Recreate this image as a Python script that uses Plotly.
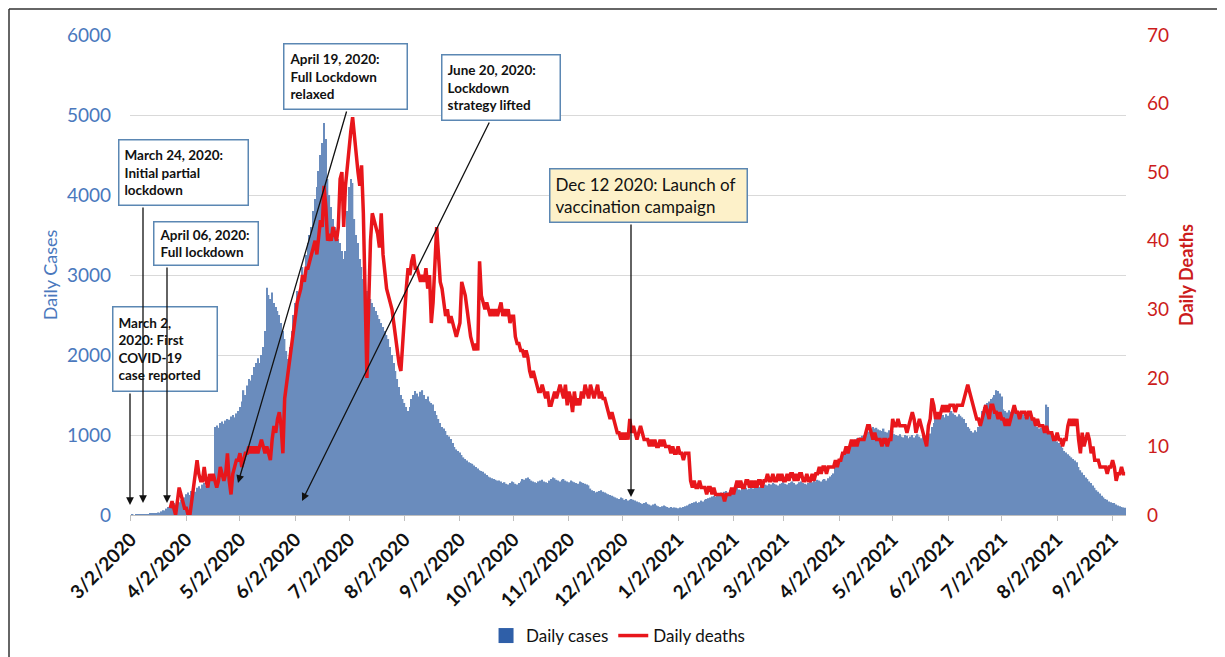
import pandas as pd
import plotly.graph_objects as go

# ---------------- data ----------------
start_date = "2020-03-02"

daily_cases = [
    0, 1, 0, 2, 3, 2, 5, 8, 6, 10,
    12, 15, 20, 18, 25, 30, 28, 45, 60, 55,
    80, 100, 90, 120, 150, 130, 170, 160, 190, 180,
    220, 260, 280, 250, 300, 320, 290, 340, 360, 330,
    380, 400, 370, 420, 450, 430, 480, 1100, 1120, 1090,
    1150, 1170, 1140, 1180, 1200, 1190, 1230, 1250, 1220, 1270,
    1300, 1350, 1420, 1560, 1500, 1620, 1700, 1680, 1750, 1850,
    1900, 1960, 1900, 2000, 2100, 2300, 2840, 2750, 2700, 2780,
    2650, 2600, 2550, 2500, 2400, 2300, 2200, 2050, 1950, 2100,
    2300, 2500, 2650, 2800, 2700, 2900, 3100, 3000, 3250, 3400,
    3500, 3600, 3800, 3950, 4100, 4300, 4500, 4650, 4900, 4700,
    4200, 4000, 3850, 3700, 3600, 3500, 3450, 3400, 3300, 3200,
    3300, 3800, 4100, 4200, 4150, 3700, 3500, 3400, 3200, 3100,
    2950, 2850, 2800, 2750, 2700, 2650, 2600, 2550, 2500, 2450,
    2400, 2350, 2300, 2250, 2200, 2100, 2000, 1900, 1800, 1700,
    1600, 1500, 1450, 1400, 1350, 1300, 1350, 1450, 1500, 1550,
    1520, 1480, 1540, 1560, 1500, 1450, 1480, 1420, 1400, 1380,
    1300, 1250, 1200, 1150, 1100, 1080, 1050, 1000, 980, 950,
    900, 850, 820, 800, 780, 750, 720, 700, 680, 660,
    650, 640, 620, 600, 580, 560, 550, 540, 520, 500,
    480, 470, 460, 450, 440, 430, 430, 420, 400, 410,
    390, 380, 400, 420, 410, 390, 380, 400, 420, 450,
    440, 460, 470, 450, 430, 420, 410, 400, 420, 430,
    440, 420, 410, 400, 430, 450, 470, 460, 440, 430,
    420, 440, 450, 430, 420, 410, 430, 420, 410, 400,
    390, 420, 410, 400, 390, 380, 370, 330, 310, 300,
    280, 290, 300, 310, 290, 280, 270, 260, 250, 240,
    230, 220, 210, 200, 220, 210, 190, 200, 180, 190,
    200, 190, 180, 170, 160, 150, 140, 150, 160, 140,
    130, 120, 130, 140, 120, 110, 100, 110, 120, 110,
    100, 90, 100, 90, 95, 90, 85, 95, 90, 100,
    110, 120, 130, 140, 150, 160, 170, 150, 160, 180,
    170, 190, 200, 210, 220, 230, 240, 230, 250, 260,
    280, 270, 290, 300, 280, 310, 320, 300, 330, 340,
    320, 310, 330, 350, 340, 320, 330, 340, 330, 350,
    340, 360, 350, 370, 360, 380, 370, 390, 380, 400,
    390, 380, 370, 390, 400, 410, 390, 380, 400, 410,
    420, 400, 380, 390, 410, 420, 400, 390, 380, 400,
    420, 410, 430, 420, 440, 430, 420, 440, 450, 430,
    460, 480, 500, 520, 600, 650, 700, 720, 760, 780,
    820, 860, 900, 880, 920, 940, 960, 950, 970, 990,
    1000, 1050, 1080, 1040, 1060, 1100, 1080, 1090, 1070, 1060,
    1050, 1080, 1040, 1030, 1060, 1020, 1050, 1010, 1000, 990,
    1010, 980, 970, 1000, 990, 960, 980, 1000, 970, 990,
    1010, 980, 960, 1000, 990, 970, 980, 1020, 1100, 1150,
    1200, 1250, 1280, 1300, 1250, 1220, 1260, 1240, 1280, 1300,
    1270, 1250, 1230, 1260, 1240, 1220, 1200, 1150, 1100, 1080,
    1050, 1030, 1060, 1040, 1100, 1200, 1300, 1350, 1380, 1400,
    1420, 1450, 1470, 1500, 1560, 1550, 1520, 1480, 1320, 1300,
    1280, 1310, 1290, 1260, 1300, 1280, 1250, 1270, 1240, 1260,
    1230, 1250, 1220, 1240, 1230, 1150, 1120, 1100, 1080, 1090,
    1070, 1060, 1380, 1350, 1020, 1000, 980, 950, 920, 900,
    870, 840, 800, 780, 760, 740, 720, 700, 680, 660,
    600, 560, 530, 500, 470, 450, 420, 400, 370, 340,
    310, 290, 270, 240, 220, 200, 190, 170, 160, 150,
    150, 130, 120, 110, 100, 95, 90,
]

daily_deaths = [None] * 22 + [
    1, 2, 1, 0, 2, 4, 3, 2,
    1, 1, 0, 0, 2, 4, 6, 8, 6, 5,
    5, 7, 5, 4, 6, 5, 6, 5, 4, 5,
    7, 6, 5, 6, 9, 5, 3, 6, 7, 8,
    8, 9, 7, 8, 9, 9, 10, 9, 10, 9,
    10, 9, 10, 11, 10, 9, 10, 9, 8, 11,
    13, 12, 14, 15, 13, 9, 17, 19, 21, 23,
    25, 27, 29, 31, 32, 33, 35, 34, 36, 36,
    37, 38, 39, 40, 38, 41, 43, 42, 48, 45,
    40, 41, 40, 42, 41, 40, 42, 49, 50, 42,
    48, 51, 54, 56, 58, 55, 52, 50, 48, 51,
    44, 30, 20, 31, 40, 44, 43, 42, 41, 39,
    44, 38, 35, 33, 32, 31, 30, 28, 26, 24,
    22, 21, 25, 30, 33, 36, 35, 37, 38, 36,
    36, 35, 34, 35, 34, 36, 33, 35, 28, 31,
    36, 42, 38, 34, 33, 31, 29, 30, 28, 29,
    28, 27, 26, 27, 28, 34, 33, 32, 30, 28,
    26, 25, 24, 25, 24, 37, 32, 31, 30, 31,
    30, 29, 30, 29, 30, 29, 30, 31, 29, 30,
    29, 30, 28, 29, 29, 26, 25, 25, 24, 24,
    23, 24, 23, 21, 20, 21, 20, 19, 18, 18,
    19, 18, 17, 18, 16, 16, 17, 18, 17, 18,
    19, 18, 17, 19, 16, 18, 17, 15, 18, 16,
    17, 16, 18, 17, 19, 18, 17, 19, 18, 17,
    18, 19, 17, 18, 17, 17, 16, 15, 14, 15,
    14, 13, 12, 12, 11, 12, 11, 12, 11, 14,
    12, 13, 12, 11, 12, 13, 12, 11, 11, 11,
    10, 11, 10, 11, 10, 10, 11, 10, 11, 10,
    10, 10, 9, 10, 9, 9, 10, 9, 9, 8,
    9, 9, 9, 5, 4, 5, 4, 4, 5, 4,
    4, 4, 3, 4, 4, 3, 4, 3, 3, 3,
    3, 3, 2, 3, 3, 3, 4, 3, 4, 5,
    4, 5, 4, 4, 5, 5, 4, 5, 4, 5,
    4, 5, 5, 4, 5, 5, 6, 5, 5, 6,
    5, 5, 6, 5, 6, 5, 5, 6, 5, 6,
    6, 5, 6, 5, 6, 6, 5, 5, 6, 5,
    5, 6, 5, 6, 6, 7, 6, 7, 7, 6,
    7, 7, 7, 7, 8, 7, 8, 8, 9, 9,
    10, 9, 10, 11, 10, 11, 10, 11, 11, 11,
    11, 12, 13, 13, 12, 11, 12, 11, 11, 11,
    10, 11, 11, 10, 11, 11, 14, 13, 13, 14,
    13, 13, 13, 13, 12, 13, 14, 15, 14, 12,
    13, 14, 13, 12, 11, 10, 13, 14, 17, 16,
    14, 15, 14, 15, 16, 15, 16, 15, 16, 16,
    16, 15, 16, 16, 16, 16, 17, 18, 19, 18,
    17, 16, 15, 14, 14, 13, 14, 15, 16, 15,
    14, 16, 16, 15, 15, 14, 15, 14, 14, 13,
    14, 13, 14, 15, 16, 15, 15, 14, 15, 15,
    15, 14, 15, 15, 14, 14, 13, 14, 13, 13,
    13, 12, 13, 12, 12, 12, 11, 11, 12, 11,
    11, 10, 11, 11, 13, 14, 13, 14, 13, 14,
    11, 9, 12, 10, 11, 12, 11, 9, 10, 8,
    8, 8, 7, 7, 7, 7, 6, 7, 7, 8,
    7, 5, 6, 6, 7, 6, 6,
]

tick_labels = ["3/2/2020", "4/2/2020", "5/2/2020", "6/2/2020", "7/2/2020",
               "8/2/2020", "9/2/2020", "10/2/2020", "11/2/2020", "12/2/2020",
               "1/2/2021", "2/2/2021", "3/2/2021", "4/2/2021", "5/2/2021",
               "6/2/2021", "7/2/2021", "8/2/2021", "9/2/2021"]

note_march2 = "March 2,<br>2020: First<br>COVID-19<br>case reported"
note_march24 = "March 24, 2020:<br>Initial partial<br>lockdown"
note_april06 = "April 06, 2020:<br>Full lockdown"
note_april19 = "April 19, 2020:<br>Full Lockdown<br>relaxed"
note_june20 = "June 20, 2020:<br>Lockdown<br>strategy lifted"
note_dec12 = "Dec 12 2020: Launch of<br>vaccination campaign"

# ---------------- figure ----------------
dates = pd.date_range(start_date, periods=len(daily_cases), freq="D")
deaths = daily_deaths[:len(dates)]
tick_dates = pd.to_datetime(tick_labels, format="%m/%d/%Y")

FONT = "Lato, 'Open Sans', sans-serif"
BLUE_TXT = "#4a78bd"
RED_TXT = "#cc1c1c"

fig = go.Figure()
# legend swatch for the bars (solid Excel-like blue)
fig.add_trace(go.Scatter(
    x=[None], y=[None], name="Daily cases", mode="markers",
    marker=dict(symbol="square", size=15, color="#2f5fa8"),
))
fig.add_trace(go.Bar(
    x=dates, y=daily_cases, name="Daily cases", showlegend=False,
    marker=dict(color="#6a8cbd", line=dict(width=0)),
))
fig.add_trace(go.Scatter(
    x=dates, y=deaths, name="Daily deaths", yaxis="y2",
    mode="lines", line=dict(color="#e8161b", width=3.5),
    connectgaps=False,
))

# page offset of the figure (browser body margin)
OFF = 8
W, H = 1225, 657
# plot area in page pixels
L, R, T, B = 130, 1126, 35, 515


def px(x):
    return (x - L) / (R - L)


def py(y):
    return (B - y) / (B - T)


annotations = []

boxes = [
    (note_march2, 112, 306, 106, 86, 13.5, "white", True),
    (note_march24, 118, 139, 131, 67, 13.5, "white", True),
    (note_april06, 153, 221, 106, 45, 13.5, "white", True),
    (note_april19, 283, 43, 125, 67, 13.5, "white", True),
    (note_june20, 441, 54, 120, 67, 13.5, "white", True),
    (note_dec12, 549, 168, 199, 55, 17, "#fdf1c9", False),
]
pad, bw = 5, 1.5
for text, x0, y0, w, h, fs, bg, bold in boxes:
    annotations.append(dict(
        text=text, xref="paper", yref="paper", x=px(x0), y=py(y0),
        xanchor="left", yanchor="top", showarrow=False, align="left",
        valign="middle", width=w - 2 * pad - 2 * bw, height=h - 2 * pad - 2 * bw,
        bgcolor=bg, bordercolor="#5b87b3", borderwidth=bw, borderpad=pad,
        font=dict(family=FONT, size=fs, color="#111111",
                  weight="bold" if bold else "normal"),
    ))

arrows = [
    ((130, 392), (130, 505)),
    ((143, 206), (143, 503)),
    ((167, 266), (167, 503)),
    ((347, 110), (238, 483)),
    ((490, 121), (302, 501)),
    ((631, 223), (631, 497)),
]
for (tx, ty), (hx, hy) in arrows:
    annotations.append(dict(
        text="", xref="paper", yref="paper", x=px(hx), y=py(hy),
        ax=tx - hx, ay=ty - hy, showarrow=True, arrowhead=2,
        arrowsize=1.2, arrowwidth=1.3, arrowcolor="#111111", standoff=0,
    ))

# outer frame (left and top edges), as close to the page corner as the figure allows
fx, fy = OFF + 1, OFF + 1
shapes = [
    dict(type="line", xref="paper", yref="paper",
         x0=px(fx), x1=px(fx), y0=py(fy), y1=py(H + 20),
         line=dict(color="#333333", width=1.5)),
    dict(type="line", xref="paper", yref="paper",
         x0=px(fx), x1=px(W + 20), y0=py(fy), y1=py(fy),
         line=dict(color="#333333", width=1.5)),
]

fig.update_layout(
    width=W, height=H,
    margin=dict(l=L - OFF, r=W - (R - OFF), t=T - OFF, b=H - (B - OFF),
                autoexpand=False),
    paper_bgcolor="white", plot_bgcolor="white",
    font=dict(family=FONT, size=16, color="#111111"),
    bargap=0.2,
    showlegend=True,
    legend=dict(orientation="h", x=0.49, xanchor="center",
                yref="container", y=1 - (636 - OFF) / H, yanchor="middle",
                font=dict(family=FONT, size=17, color="#111111"),
                traceorder="normal", itemwidth=30, bgcolor="rgba(0,0,0,0)"),
    xaxis=dict(
        type="date", automargin=False,
        range=[pd.Timestamp(start_date) - pd.Timedelta(hours=12),
               dates[-1] + pd.Timedelta(hours=12)],
        tickvals=tick_dates, ticktext=tick_labels, tickangle=-45,
        tickfont=dict(family=FONT, size=19, color="#111111", weight="bold"),
        ticks="outside", ticklen=5, tickcolor="#bfbfbf",
        showline=True, linecolor="#bfbfbf", linewidth=1,
        showgrid=False, zeroline=False,
    ),
    yaxis=dict(
        range=[0, 6000], dtick=1000, tickformat="d", automargin=False,
        tickfont=dict(family=FONT, size=19, color=BLUE_TXT),
        title=dict(text="Daily Cases", font=dict(family=FONT, size=18, color=BLUE_TXT),
                   standoff=4),
        showgrid=True, gridcolor="#d9d9d9", gridwidth=1,
        zeroline=False, showline=False, ticks="", ticklabelstandoff=18,
    ),
    yaxis2=dict(
        range=[0, 70], dtick=10, overlaying="y", side="right", automargin=False,
        tickfont=dict(family=FONT, size=19, color=RED_TXT),
        title=dict(text="Daily Deaths",
                   font=dict(family=FONT, size=18, color=RED_TXT, weight="bold"),
                   standoff=12),
        showgrid=False, zeroline=False, showline=False, ticks="",
        ticklabelstandoff=20,
    ),
    annotations=annotations,
    shapes=shapes,
)

fig.write_html("out.html")
